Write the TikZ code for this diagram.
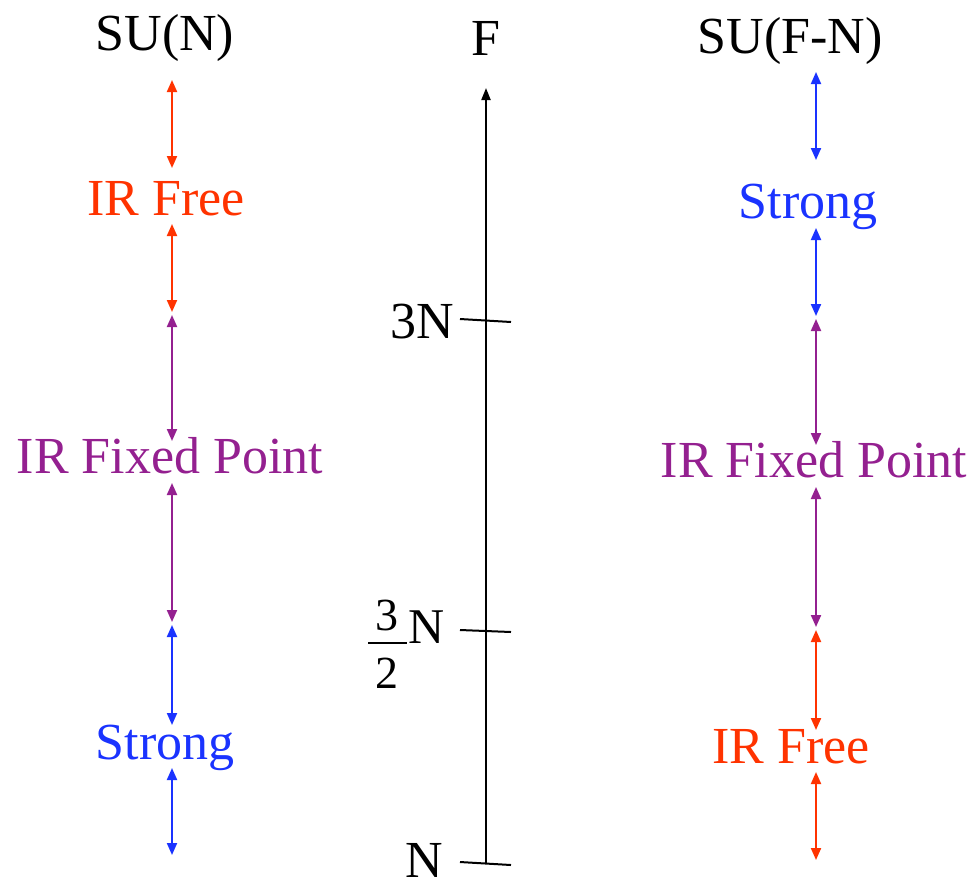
\documentclass[tikz,border=0pt]{standalone}
\usepackage{fontspec}
\setmainfont{Liberation Serif}
\usetikzlibrary{arrows.meta}
\definecolor{irred}{RGB}{255,51,0}
\definecolor{irpurple}{RGB}{148,32,144}
\definecolor{irblue}{RGB}{26,51,255}
\tikzset{
  lbl/.style={anchor=base, inner sep=0pt, font=\fontsize{52}{60}\selectfont},
  dbl/.style={line width=2pt, {Triangle[width=10pt,length=12pt]}-{Triangle[width=10pt,length=12pt]}},
  axisline/.style={line width=2pt, -{Triangle[width=9pt,length=12pt]}},
  tickline/.style={line width=2pt},
}
\begin{document}
\begin{tikzpicture}[x=1pt,y=-1pt]
\useasboundingbox (0,0) rectangle (976,884);
% headers
\node[lbl] (h1) at (165,50) {SU(N)};
\node[lbl] (h2) at (486,55) {F};
\node[lbl] (h3) at (790,53) {SU(F-N)};
% left column
\node[lbl,text=irred] (lfree) at (166,215) {IR Free};
\node[lbl,text=irpurple] (lfix) at (170,473) {IR Fixed Point};
\node[lbl,text=irblue] (lstrong) at (165,759) {Strong};
% right column
\node[lbl,text=irblue] (rstrong) at (808,218) {Strong};
\node[lbl,text=irpurple] (rfix) at (814,477) {IR Fixed Point};
\node[lbl,text=irred] (rfree) at (791,763) {IR Free};
% left arrows
\coordinate (l1) at (172,80);  \coordinate (l2) at (172,168);
\coordinate (l3) at (172,224); \coordinate (l4) at (172,312);
\coordinate (l5) at (172,315); \coordinate (l6) at (172,441);
\coordinate (l7) at (172,483); \coordinate (l8) at (172,622);
\coordinate (l9) at (172,625); \coordinate (l10) at (172,725);
\coordinate (l11) at (172,768); \coordinate (l12) at (172,855);
\draw[dbl,irred] (l1) -- (l2);
\draw[dbl,irred] (l3) -- (l4);
\draw[dbl,irpurple] (l5) -- (l6);
\draw[dbl,irpurple] (l7) -- (l8);
\draw[dbl,irblue] (l9) -- (l10);
\draw[dbl,irblue] (l11) -- (l12);
% right arrows
\coordinate (r1) at (816,72);  \coordinate (r2) at (816,160);
\coordinate (r3) at (816,228); \coordinate (r4) at (816,316);
\coordinate (r5) at (816,319); \coordinate (r6) at (816,445);
\coordinate (r7) at (816,487); \coordinate (r8) at (816,627);
\coordinate (r9) at (816,630); \coordinate (r10) at (816,730);
\coordinate (r11) at (816,772); \coordinate (r12) at (816,860);
\draw[dbl,irblue] (r1) -- (r2);
\draw[dbl,irblue] (r3) -- (r4);
\draw[dbl,irpurple] (r5) -- (r6);
\draw[dbl,irpurple] (r7) -- (r8);
\draw[dbl,irred] (r9) -- (r10);
\draw[dbl,irred] (r11) -- (r12);
% axis
\coordinate (abot) at (486,863);
\coordinate (atop) at (486,88);
\draw[axisline] (abot) -- (atop);
\coordinate (t1a) at (460,319); \coordinate (t1b) at (511,322);
\coordinate (t2a) at (460,630); \coordinate (t2b) at (511,632);
\coordinate (t3a) at (460,862); \coordinate (t3b) at (511,865);
\draw[tickline] (t1a) -- (t1b);
\draw[tickline] (t2a) -- (t2b);
\draw[tickline] (t3a) -- (t3b);
% tick labels
\node[lbl,anchor=base east] (lab3n) at (454,338) {3N};
\node[lbl,anchor=base east] (labn) at (443,877) {N};
\node[lbl,font=\fontsize{46}{50}\selectfont] (fnum) at (387,630) {3};
\node[lbl,font=\fontsize{46}{50}\selectfont] (fden) at (387,688) {2};
\coordinate (fba) at (368,643); \coordinate (fbb) at (407,643);
\draw[line width=2pt] (fba) -- (fbb);
\node[lbl,anchor=base west,font=\fontsize{50}{56}\selectfont] (fn) at (408,643) {N};
\end{tikzpicture}
\end{document}
